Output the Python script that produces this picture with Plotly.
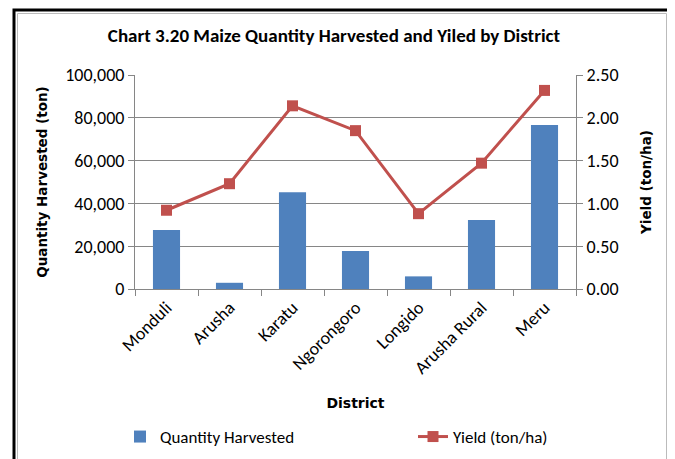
import plotly.graph_objects as go

districts = ["Monduli", "Arusha", "Karatu", "Ngorongoro", "Longido", "Arusha Rural", "Meru"]
quantity = [27600, 2900, 45200, 17800, 5900, 32200, 76600]
yield_ha = [0.92, 1.23, 2.14, 1.85, 0.88, 1.47, 2.32]
left_ticks = [0, 20000, 40000, 60000, 80000, 100000]
right_ticks = [0, 0.5, 1.0, 1.5, 2.0, 2.5]

NARROW = "Carlito, Liberation Sans Narrow, Open Sans, sans-serif"
BOLDF = "DejaVu Sans, Verdana, sans-serif"

OFF = 8  # page body margin
W, H = 675 - OFF, 459 - OFF
L, R, T, B = 135, 576, 75, 289  # plot area in reference pixels

fig = go.Figure()
fig.add_trace(go.Bar(
    x=districts, y=quantity, name="Quantity Harvested",
    marker=dict(color="#4F81BD", line=dict(width=0)), yaxis="y",
    legend="legend",
))
fig.add_trace(go.Scatter(
    x=districts, y=yield_ha, name="Yield (ton/ha)", yaxis="y2",
    mode="lines+markers",
    line=dict(color="#C0504D", width=3),
    marker=dict(symbol="square", size=11, color="#C0504D"),
    legend="legend2",
))

def px_x(p):
    return (p - L) / (R - L)

def px_y(p):
    return (B - p) / (B - T)

shapes = [
    dict(type="rect", xref="paper", yref="paper",
         x0=px_x(14), x1=px_x(670), y0=px_y(480), y1=px_y(10),
         line=dict(color="black", width=3), layer="above"),
    dict(type="rect", xref="paper", yref="paper",
         x0=px_x(17.5), x1=px_x(666.5), y0=px_y(480), y1=px_y(13.5),
         line=dict(color="#BBBBBB", width=1), layer="above"),
]

legend_common = dict(orientation="h", yanchor="middle", xanchor="left",
                     font=dict(family=NARROW, size=17, color="black"),
                     bgcolor="rgba(0,0,0,0)")

fig.update_layout(
    width=W, height=H,
    margin=dict(l=L - OFF, r=W - (R - OFF), t=T - OFF, b=H - (B - OFF), autoexpand=False),
    paper_bgcolor="white", plot_bgcolor="white",
    showlegend=True,
    bargap=0.57,
    title=dict(text="<b>Chart 3.20 Maize Quantity Harvested and Yiled by District</b>",
               x=px_x(334), xref="paper", xanchor="center",
               y=1 - (35 - OFF) / H, yanchor="middle",
               font=dict(family=NARROW, size=19, color="black")),
    xaxis=dict(
        type="category", tickangle=-45, tickson="boundaries",
        ticks="outside", ticklen=6, tickcolor="#868686",
        showline=True, linecolor="#868686", linewidth=1,
        tickfont=dict(family=NARROW, size=18, color="black"),
        title=dict(text="<b>District</b>", standoff=20,
                   font=dict(family=BOLDF, size=14, color="black")),
        showgrid=False,
    ),
    yaxis=dict(
        range=[0, 100000], tickvals=left_ticks,
        tickformat=",d", showgrid=True, gridcolor="#868686", gridwidth=1,
        ticks="outside", ticklen=6, tickcolor="#868686",
        showline=True, linecolor="#868686", zeroline=False,
        tickfont=dict(family=NARROW, size=18, color="black"),
        title=dict(text="<b>Quantity Harvested (ton)</b>", standoff=14,
                   font=dict(family=BOLDF, size=13.5, color="black")),
    ),
    yaxis2=dict(
        range=[0, 2.5], tickvals=right_ticks, tickformat=".2f",
        overlaying="y", side="right", showgrid=False,
        ticks="outside", ticklen=6, tickcolor="#868686",
        showline=True, linecolor="#868686", zeroline=False,
        tickfont=dict(family=NARROW, size=18, color="black"),
        title=dict(text="<b>Yield (ton/ha)</b>", standoff=24,
                   font=dict(family=BOLDF, size=13.5, color="black")),
    ),
    legend=dict(x=px_x(120), y=px_y(437), **legend_common),
    legend2=dict(x=px_x(413), y=px_y(437), **legend_common),
    shapes=shapes,
)

fig.write_html("out.html")
